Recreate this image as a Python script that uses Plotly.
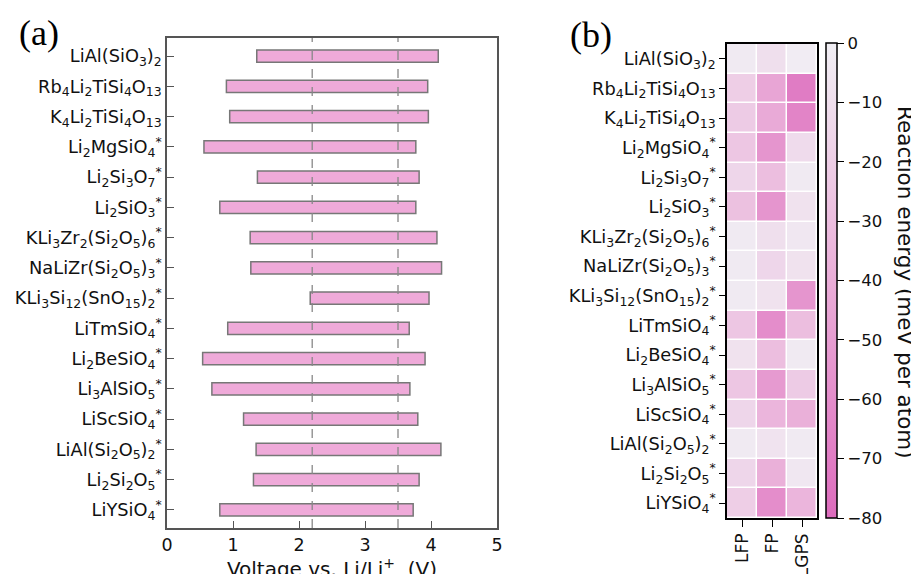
import plotly.graph_objects as go

labels = [
    "LiAl(SiO<sub>3</sub>)<sub>2</sub>",
    "Rb<sub>4</sub>Li<sub>2</sub>TiSi<sub>4</sub>O<sub>13</sub>",
    "K<sub>4</sub>Li<sub>2</sub>TiSi<sub>4</sub>O<sub>13</sub>",
    "Li<sub>2</sub>MgSiO<sub>4</sub><sup>*</sup>",
    "Li<sub>2</sub>Si<sub>3</sub>O<sub>7</sub><sup>*</sup>",
    "Li<sub>2</sub>SiO<sub>3</sub><sup>*</sup>",
    "KLi<sub>3</sub>Zr<sub>2</sub>(Si<sub>2</sub>O<sub>5</sub>)<sub>6</sub><sup>*</sup>",
    "NaLiZr(Si<sub>2</sub>O<sub>5</sub>)<sub>3</sub><sup>*</sup>",
    "KLi<sub>3</sub>Si<sub>12</sub>(SnO<sub>15</sub>)<sub>2</sub><sup>*</sup>",
    "LiTmSiO<sub>4</sub><sup>*</sup>",
    "Li<sub>2</sub>BeSiO<sub>4</sub><sup>*</sup>",
    "Li<sub>3</sub>AlSiO<sub>5</sub><sup>*</sup>",
    "LiScSiO<sub>4</sub><sup>*</sup>",
    "LiAl(Si<sub>2</sub>O<sub>5</sub>)<sub>2</sub><sup>*</sup>",
    "Li<sub>2</sub>Si<sub>2</sub>O<sub>5</sub><sup>*</sup>",
    "LiYSiO<sub>4</sub><sup>*</sup>",
]

v_low = [1.36, 0.90, 0.95, 0.56, 1.37, 0.80, 1.26, 1.27, 2.17, 0.92, 0.54, 0.68, 1.16, 1.35, 1.31, 0.80]
v_high = [4.11, 3.95, 3.96, 3.77, 3.82, 3.77, 4.09, 4.16, 3.97, 3.67, 3.91, 3.68, 3.80, 4.15, 3.82, 3.73]

ref_lines = [2.2, 3.5]

cathodes = ["LFP", "FP", "LGPS"]
e_lfp = [-3, -20, -22, -25, -15, -28, -3, -3, -3, -25, -8, -25, -15, -3, -15, -20]
e_fp = [-10, -45, -42, -55, -30, -55, -10, -15, -8, -60, -30, -52, -35, -7, -38, -60]
e_lgps = [-2, -70, -65, -12, -3, -8, -5, -8, -55, -30, -3, -22, -38, -3, -5, -35]

cb_ticks = [0, -10, -20, -30, -40, -50, -60, -70, -80]

W, H = 919, 574
OFF = 8  # default page body margin
FONT = "DejaVu Sans"
idx = list(range(len(labels)))


def px(x):
    return (x - OFF) / W


def py(y):
    return 1 - (y - OFF) / H


fig = go.Figure()

fig.add_trace(go.Bar(
    y=idx, x=[h - l for l, h in zip(v_low, v_high)], base=v_low,
    orientation="h", width=0.4,
    marker=dict(color="#efaad9", line=dict(color="#777777", width=1.5)),
    xaxis="x", yaxis="y", showlegend=False,
))

z = [[a, b, c] for a, b, c in zip(e_lfp, e_fp, e_lgps)]
fig.add_trace(go.Heatmap(
    z=z, x=[0, 1, 2], y=idx, xaxis="x2", yaxis="y2",
    zmin=-80, zmax=0, xgap=1.5, ygap=1.5,
    colorscale=[[0, "#dd6cbd"], [0.5, "#eaadd8"], [1, "#f1eff4"]],
    colorbar=dict(
        x=px(826), xanchor="left", y=py(518), yanchor="bottom",
        len=475 / H, lenmode="fraction", thickness=11, xpad=0, ypad=0,
        outlinecolor="black", outlinewidth=1.5,
        tickvals=cb_ticks, ticks="outside", ticklen=7, tickcolor="black",
        tickfont=dict(family=FONT, size=16.5, color="#111"),
    ),
    showscale=True,
))

for xv in ref_lines:
    fig.add_shape(type="line", xref="x", yref="y domain", x0=xv, x1=xv, y0=0, y1=1,
                  line=dict(color="#888888", width=1.3, dash="dash"))

fig.update_layout(
    width=W, height=H, margin=dict(l=0, r=0, t=0, b=0),
    paper_bgcolor="white", plot_bgcolor="white",
    font=dict(family=FONT, size=16, color="#111"),
    xaxis=dict(
        domain=[px(167), px(497)], range=[0, 5], tickvals=[0, 1, 2, 3, 4, 5],
        showgrid=False, zeroline=False, showline=True, mirror=True,
        linecolor="#555", linewidth=1.5, ticks="inside", ticklen=7, tickcolor="#555",
        tickfont=dict(size=17.5), automargin=False,
        title=dict(text="Voltage vs. Li/Li<sup>+</sup>  (V)", font=dict(size=20), standoff=6),
    ),
    yaxis=dict(
        domain=[py(528), py(38)], range=[15.6, -0.6],
        tickvals=idx, ticktext=labels, showgrid=False, zeroline=False,
        showline=True, mirror=True, linecolor="#555", linewidth=1.5,
        ticks="inside", ticklen=7, tickcolor="#555", tickfont=dict(size=17.8),
        automargin=False,
    ),
    xaxis2=dict(
        domain=[px(727), px(817)], range=[-0.5, 2.5], tickvals=[0, 1, 2], ticktext=cathodes,
        tickangle=-90, showgrid=False, zeroline=False, showline=True, mirror=True,
        linecolor="black", linewidth=1.5, ticks="outside", ticklen=7, tickcolor="black",
        tickfont=dict(size=17), anchor="y2", automargin=False,
    ),
    yaxis2=dict(
        domain=[py(518), py(44)], range=[15.5, -0.5],
        tickvals=idx, ticktext=labels, showgrid=False, zeroline=False,
        showline=True, mirror=True, linecolor="black", linewidth=1.5,
        ticks="outside", ticklen=6, tickcolor="black", tickfont=dict(size=17.8),
        anchor="x2", automargin=False,
    ),
    annotations=[
        dict(text="(a)", x=px(39), y=py(33), xref="paper", yref="paper",
             xanchor="center", yanchor="middle",
             showarrow=False, font=dict(family="Liberation Serif", size=36, color="black")),
        dict(text="(b)", x=px(591), y=py(35), xref="paper", yref="paper",
             xanchor="center", yanchor="middle",
             showarrow=False, font=dict(family="Liberation Serif", size=36, color="black")),
        dict(text="Reaction energy (meV per atom)", x=px(906), y=py(282),
             xref="paper", yref="paper", textangle=90, showarrow=False,
             xanchor="center", yanchor="middle",
             font=dict(family=FONT, size=21.5, color="#111")),
    ],
)

fig.write_html("out.html")
